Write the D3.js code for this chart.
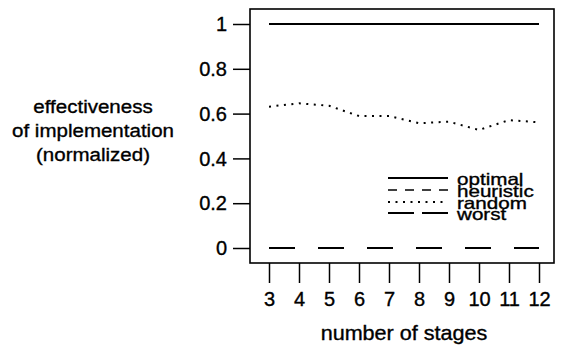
<!DOCTYPE html>
<html>
<head>
<meta charset="utf-8">
<script src="https://cdnjs.cloudflare.com/ajax/libs/d3/7.8.5/d3.min.js"></script>
<style>
  html, body { margin: 0; padding: 0; background: #fff; }
  svg text { font-family: "Liberation Sans", Arial, Helvetica, sans-serif; fill: #000; stroke: #000; stroke-width: 0.35px; }
</style>
</head>
<body>
<div id="chart"></div>
<script>
// data
var stages = [3, 4, 5, 6, 7, 8, 9, 10, 11, 12];
var optimal = [1, 1, 1, 1, 1, 1, 1, 1, 1, 1];
var heuristic = [1, 1, 1, 1, 1, 1, 1, 1, 1, 1];
var random = [0.631, 0.646, 0.635, 0.589, 0.589, 0.557, 0.564, 0.527, 0.571, 0.561];
var worst = [0, 0, 0, 0, 0, 0, 0, 0, 0, 0];
var yTicks = [0, 0.2, 0.4, 0.6, 0.8, 1];
var seriesNames = ['optimal', 'heuristic', 'random', 'worst'];

var width = 562, height = 347;
var frame = { left: 250, right: 554, top: 9, bottom: 263 };

// line styles: plot dash, legend dash
var styles = {
  optimal: { plot: null, legend: null, width: 2 },
  heuristic: { plot: '9,8', legend: '9,8', width: 1.5 },
  random: { plot: '2,5.5', legend: '2,5.5', width: 2 },
  worst: { plot: '26,23', legend: '26,8', width: 1.8 }
};
var seriesData = { optimal: optimal, heuristic: heuristic, random: random, worst: worst };

var svg = d3.select('#chart').append('svg')
  .attr('width', width)
  .attr('height', height);

var x = d3.scaleLinear().domain([3, 12]).range([269, 539]);
var y = d3.scaleLinear().domain([0, 1]).range([248, 24]);

// frame
svg.append('rect')
  .attr('x', frame.left)
  .attr('y', frame.top)
  .attr('width', frame.right - frame.left)
  .attr('height', frame.bottom - frame.top)
  .attr('fill', 'none')
  .attr('stroke', '#000')
  .attr('stroke-width', 1.6);

// y axis, ticks sit outside the frame
var yAxis = d3.axisLeft(y)
  .tickValues(yTicks)
  .tickFormat(function (d) { return String(d); })
  .tickSize(17)
  .tickPadding(6);
var gy = svg.append('g')
  .attr('transform', 'translate(' + frame.left + ',0)')
  .call(yAxis);
gy.select('.domain').remove();
gy.selectAll('line').attr('stroke', '#000').attr('stroke-width', 1.5);
gy.selectAll('text').attr('font-size', 20).attr('dy', '0.33em');

// x axis
var xAxis = d3.axisBottom(x)
  .tickValues(stages)
  .tickFormat(function (d) { return String(d); })
  .tickSize(20)
  .tickPadding(9);
var gx = svg.append('g')
  .attr('transform', 'translate(0,' + frame.bottom + ')')
  .call(xAxis);
gx.select('.domain').remove();
gx.selectAll('line').attr('stroke', '#000').attr('stroke-width', 1.5);
gx.selectAll('text').attr('font-size', 20);
svg.selectAll('g').attr('font-family', null);

// series
var line = d3.line()
  .x(function (d, i) { return x(stages[i]); })
  .y(function (d) { return y(d); });

['heuristic', 'worst', 'random', 'optimal'].forEach(function (name) {
  svg.append('path')
    .datum(seriesData[name])
    .attr('d', line)
    .attr('fill', 'none')
    .attr('stroke', '#000')
    .attr('stroke-width', styles[name].width)
    .attr('stroke-dasharray', styles[name].plot);
});

// axis titles
svg.append('text')
  .attr('transform', 'translate(404,340) scale(1.08,1)')
  .attr('text-anchor', 'middle')
  .attr('font-size', 20)
  .text('number of stages');

var yTitle = ['effectiveness', 'of implementation', '(normalized)'];
svg.append('g').selectAll('text')
  .data(yTitle)
  .enter()
  .append('text')
  .attr('transform', function (d, i) {
    return 'translate(93,' + (113 + i * 24) + ') scale(1.08,1)';
  })
  .attr('text-anchor', 'middle')
  .attr('font-size', 19)
  .text(function (d) { return d; });

// legend
var legend = svg.append('g').selectAll('g')
  .data(seriesNames)
  .enter()
  .append('g')
  .attr('transform', function (d, i) {
    return 'translate(388,' + [178, 190, 202, 213][i] + ')';
  });
legend.append('line')
  .attr('x1', 0)
  .attr('x2', 60)
  .attr('stroke', '#000')
  .attr('stroke-width', function (d) { return styles[d].width; })
  .attr('stroke-dasharray', function (d) { return styles[d].legend; });
legend.append('text')
  .attr('transform', 'translate(69,7) scale(1.25,1)')
  .attr('font-size', 16.5)
  .text(function (d) { return d; });
</script>
</body>
</html>
